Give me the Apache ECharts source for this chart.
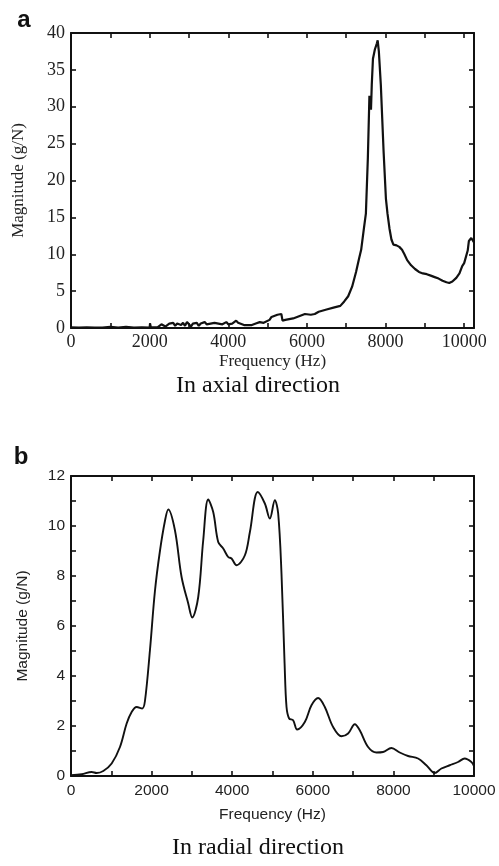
<!DOCTYPE html>
<html>
<head>
<meta charset="utf-8">
<script src="https://cdn.jsdelivr.net/npm/echarts@6/dist/echarts.min.js"></script>
<style>
html,body{margin:0;padding:0;background:#fff;}
#main{width:499px;height:866px;}
</style>
</head>
<body>
<div id="main"></div>
<script>
// Panel a: axial direction
const freqA = [0,200,400,600,800,1000,1050,1200,1400,1450,1600,1800,2000,2010,2030,2200,2300,2350,2400,2500,2550,2600,2650,2700,2750,2800,2850,2900,2950,3000,3050,3100,3150,3200,3250,3300,3350,3400,3450,3500,3550,3600,3650,3700,3750,3800,3850,3900,3950,4000,4050,4100,4200,4250,4300,4400,4500,4600,4700,4800,4900,4950,5050,5100,5150,5250,5300,5350,5380,5450,5550,5650,5750,5850,5950,6100,6200,6300,6500,6700,6850,6950,7050,7150,7250,7330,7380,7450,7500,7550,7590,7610,7630,7650,7680,7730,7780,7800,7830,7880,7950,8010,8050,8100,8150,8200,8280,8350,8420,8480,8550,8650,8750,8850,8950,9050,9150,9250,9350,9450,9550,9620,9700,9800,9880,9950,10000,10050,10090,10120,10180,10220,10250];
const magA  = [0.1,0.05,0.1,0.05,0.05,0.15,0.05,0.05,0.15,0.05,0.05,0.1,0.05,0.6,0.1,0.1,0.5,0.3,0.2,0.6,0.4,0.7,0.3,0.6,0.8,0.4,0.7,0.3,0.8,0.5,0.2,0.6,0.4,0.7,0.3,0.6,0.5,0.8,0.5,0.7,0.6,0.5,0.7,0.6,0.6,0.8,0.5,0.6,0.8,0.5,0.7,0.6,1.0,0.7,0.5,0.4,0.4,0.4,0.6,0.8,0.7,0.9,1.1,1.5,1.7,1.8,1.6,1.9,1.0,1.1,1.2,1.3,1.5,1.7,1.9,1.8,1.9,2.2,2.5,2.8,3.0,3.6,4.3,5.6,7.6,9.5,10.6,13.5,15.5,23,31.5,30.5,29.6,33,36.5,37.8,38.6,39.0,37.5,33,24,17.5,15.5,13.5,12,11.3,11.2,11,10.6,10,9.2,8.5,8.0,7.6,7.4,7.3,7.1,6.9,6.7,6.4,6.2,6.1,6.3,6.8,7.4,8.4,8.8,8.7,10.5,11.8,12.2,12.1,11.6];

// Panel b: radial direction
const freqB = [0,265,513,637,801,1009,1215,1381,1505,1629,1768,1835,1959,2083,2207,2331,2413,2579,2744,2909,3008,3157,3281,3405,3529,3653,3777,3901,3984,4108,4315,4439,4635,4810,4934,5058,5141,5223,5300,5348,5413,5512,5612,5802,5967,6132,6298,6504,6711,6876,7042,7165,7372,7579,7744,7950,8157,8364,8612,8818,9025,9191,9397,9604,9769,9935,10000];
const magB  = [0.03,0.07,0.16,0.12,0.2,0.5,1.16,2.1,2.56,2.76,2.7,3.0,5.03,7.4,9.0,10.2,10.66,9.83,7.96,6.9,6.34,7.16,9.43,11.06,10.56,9.36,9.1,8.76,8.7,8.43,8.83,9.76,11.36,10.9,10.3,11.03,10.5,8.1,4.5,2.76,2.3,2.23,1.86,2.16,2.83,3.12,2.76,1.96,1.59,1.7,2.07,1.83,1.16,0.94,0.96,1.12,0.94,0.8,0.7,0.43,0.12,0.3,0.43,0.56,0.7,0.56,0.4];

const yTicksA = [0,5,10,15,20,25,30,35,40];
const yTicksB = [0,2,4,6,8,10,12];
const xLabelStep = 2000;

const pairs = (xs, ys) => xs.map((x, i) => [x, ys[i]]);

const SERIF = '"Liberation Serif", "Times New Roman", serif';
const SANS = '"Liberation Sans", Arial, sans-serif';

function xAx(grid, max, font, size, nameSize, withLabel, pos, name, gap, margin) {
  return {
    type: 'value', gridIndex: grid, min: 0, max: max, interval: 1000, position: pos,
    axisLine: {show: true, onZero: false, lineStyle: {color: '#111', width: 2}},
    axisTick: {show: true, inside: true, length: 5, lineStyle: {color: '#111', width: 1.6}},
    axisLabel: {show: withLabel, color: '#222', fontFamily: font, fontSize: size, margin: margin || 7,
      formatter: v => (v % xLabelStep === 0 ? String(v) : '')},
    splitLine: {show: false},
    name: name || '', nameLocation: 'middle', nameGap: gap || 30,
    nameTextStyle: {color: '#222', fontFamily: font, fontSize: nameSize}
  };
}
function yAx(grid, max, interval, ticks, font, size, nameSize, withLabel, pos, name, gap) {
  return {
    type: 'value', gridIndex: grid, min: 0, max: max, interval: interval, position: pos,
    axisLine: {show: true, onZero: false, lineStyle: {color: '#111', width: 2}},
    axisTick: {show: true, inside: true, length: 5, lineStyle: {color: '#111', width: 1.6}},
    axisLabel: {show: withLabel, color: '#222', fontFamily: font, fontSize: size, margin: 6,
      formatter: v => (ticks.indexOf(v) >= 0 ? String(v) : '')},
    splitLine: {show: false},
    name: name || '', nameLocation: 'middle', nameGap: gap || 40, nameRotate: 90,
    nameTextStyle: {color: '#222', fontFamily: font, fontSize: nameSize}
  };
}

const chart = echarts.init(document.getElementById('main'), null, {renderer: 'canvas'});
chart.setOption({
  backgroundColor: '#fff',
  animation: false,
  grid: [
    {left: 71, top: 33, width: 403, height: 295},
    {left: 71, top: 476, width: 403, height: 300}
  ],
  xAxis: [
    xAx(0, 10250, SERIF, 18, 17, true, 'bottom', 'Frequency (Hz)', 25, 5),
    xAx(0, 10250, SERIF, 18, 17, false, 'top'),
    xAx(1, 10000, SANS, 15.5, 15.5, true, 'bottom', 'Frequency (Hz)', 31, 7),
    xAx(1, 10000, SANS, 15.5, 15.5, false, 'top')
  ],
  yAxis: [
    yAx(0, 40, 5, yTicksA, SERIF, 18, 17, true, 'left', 'Magnitude (g/N)', 44),
    yAx(0, 40, 5, yTicksA, SERIF, 18, 17, false, 'right'),
    yAx(1, 12, 1, yTicksB, SANS, 15.5, 15.5, true, 'left', 'Magnitude (g/N)', 40),
    yAx(1, 12, 1, yTicksB, SANS, 15.5, 15.5, false, 'right')
  ],
  series: [
    {type: 'line', xAxisIndex: 0, yAxisIndex: 0, data: pairs(freqA, magA), showSymbol: false,
     lineStyle: {color: '#111', width: 2.2}, smooth: false},
    {type: 'line', xAxisIndex: 2, yAxisIndex: 2, data: pairs(freqB, magB), showSymbol: false,
     lineStyle: {color: '#111', width: 1.9}, smooth: 0.35}
  ],
  graphic: [
    {type: 'text', x: 24, y: 20, style: {text: 'a', font: 'bold 24px ' + SANS, fill: '#111', align: 'center', verticalAlign: 'middle', textAlign: 'center', textVerticalAlign: 'middle'}},
    {type: 'text', x: 21, y: 457, style: {text: 'b', font: 'bold 24px ' + SANS, fill: '#111', align: 'center', verticalAlign: 'middle', textAlign: 'center', textVerticalAlign: 'middle'}},
    {type: 'text', x: 258, y: 386, style: {text: 'In axial direction', font: '24px ' + SERIF, fill: '#111', align: 'center', verticalAlign: 'middle', textAlign: 'center', textVerticalAlign: 'middle'}},
    {type: 'text', x: 258, y: 848, style: {text: 'In radial direction', font: '24px ' + SERIF, fill: '#111', align: 'center', verticalAlign: 'middle', textAlign: 'center', textVerticalAlign: 'middle'}}
  ]
});
</script>
</body>
</html>
